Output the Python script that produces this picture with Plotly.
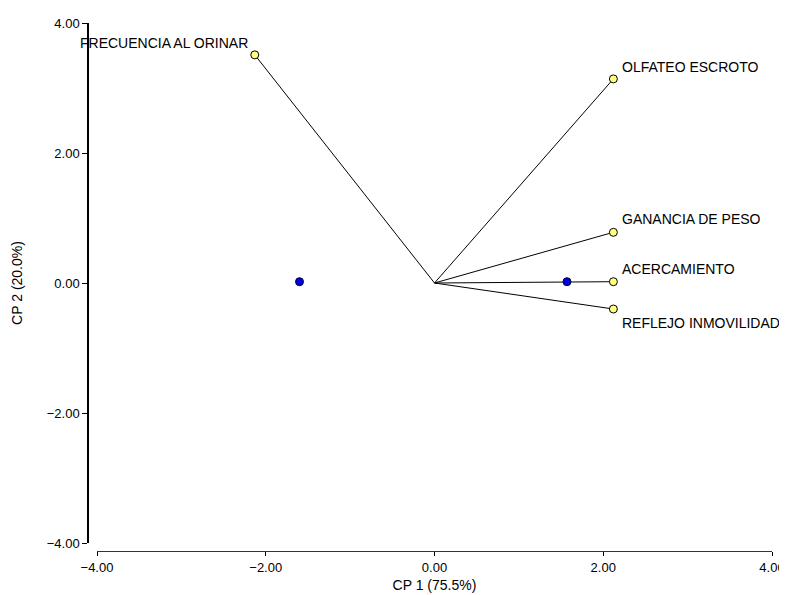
import plotly.graph_objects as go

# Variable loadings (biplot vectors)
var_names = ["FRECUENCIA AL ORINAR", "OLFATEO ESCROTO", "GANANCIA DE PESO",
             "ACERCAMIENTO", "REFLEJO INMOVILIDAD"]
var_x = [-2.13, 2.12, 2.12, 2.12, 2.12]
var_y = [3.51, 3.14, 0.78, 0.02, -0.40]

# Observation scores
obs_x = [-1.60, 1.57]
obs_y = [0.02, 0.02]

x_ticks = [-4, -2, 0, 2, 4]
y_ticks = [-4, -2, 0, 2, 4]
x_title = "CP 1 (75.5%)"
y_title = "CP 2 (20.0%)"

FONT = "Liberation Sans, Arial, sans-serif"

fig = go.Figure()

# vectors from origin
for vx, vy in zip(var_x, var_y):
    fig.add_trace(go.Scatter(x=[0, vx], y=[0, vy], mode="lines",
                             line=dict(color="black", width=1),
                             hoverinfo="skip", showlegend=False))

fig.add_trace(go.Scatter(x=obs_x, y=obs_y, mode="markers",
                         marker=dict(size=8, color="#0000e0",
                                     line=dict(color="#000040", width=1)),
                         showlegend=False, cliponaxis=False))

fig.add_trace(go.Scatter(x=var_x, y=var_y, mode="markers",
                         marker=dict(size=8, color="#ffff80",
                                     line=dict(color="black", width=1)),
                         showlegend=False, cliponaxis=False))

# label placement (pixel offsets relative to the points)
label_style = {
    "FRECUENCIA AL ORINAR": dict(xanchor="right", xshift=-5, yshift=12),
    "OLFATEO ESCROTO": dict(xanchor="left", xshift=7, yshift=12),
    "GANANCIA DE PESO": dict(xanchor="left", xshift=7, yshift=13),
    "ACERCAMIENTO": dict(xanchor="left", xshift=7, yshift=13),
    "REFLEJO INMOVILIDAD": dict(xanchor="left", xshift=7, yshift=-14),
}
for name, vx, vy in zip(var_names, var_x, var_y):
    st = label_style[name]
    fig.add_annotation(x=vx, y=vy, xref="x", yref="y", text=name,
                       showarrow=False, yanchor="middle",
                       font=dict(family=FONT, size=14, color="black"), **st)

# The page body has an 8px margin, so the layout is shifted up/left by 8px.
fig.update_layout(
    width=787, height=587,
    margin=dict(l=80, r=23, t=15, b=44, autoexpand=False),
    paper_bgcolor="white", plot_bgcolor="white",
    font=dict(family=FONT, size=13, color="black"),
    showlegend=False,
    xaxis=dict(range=[-4, 4], domain=[9 / 684, 1], anchor="free", position=0,
               automargin=False, ticklabeloverflow="allow",
               tickvals=x_ticks, tickformat=".2f", ticks="outside", ticklen=4,
               tickcolor="black", showline=True, linecolor="#333333",
               linewidth=1.2, showgrid=False, zeroline=False,
               title=dict(text=x_title, standoff=6,
                          font=dict(family=FONT, size=14)),
               tickfont=dict(family=FONT, size=13)),
    yaxis=dict(range=[-4, 4], domain=[8 / 528, 1], anchor="free", position=0,
               automargin=False,
               tickvals=y_ticks, tickformat=".2f", ticks="outside", ticklen=5,
               tickcolor="black", showline=True, linecolor="black",
               linewidth=1.5, showgrid=False, zeroline=False,
               title=dict(text=y_title, standoff=20,
                          font=dict(family=FONT, size=14)),
               tickfont=dict(family=FONT, size=13)),
)

fig.write_html("out.html")
